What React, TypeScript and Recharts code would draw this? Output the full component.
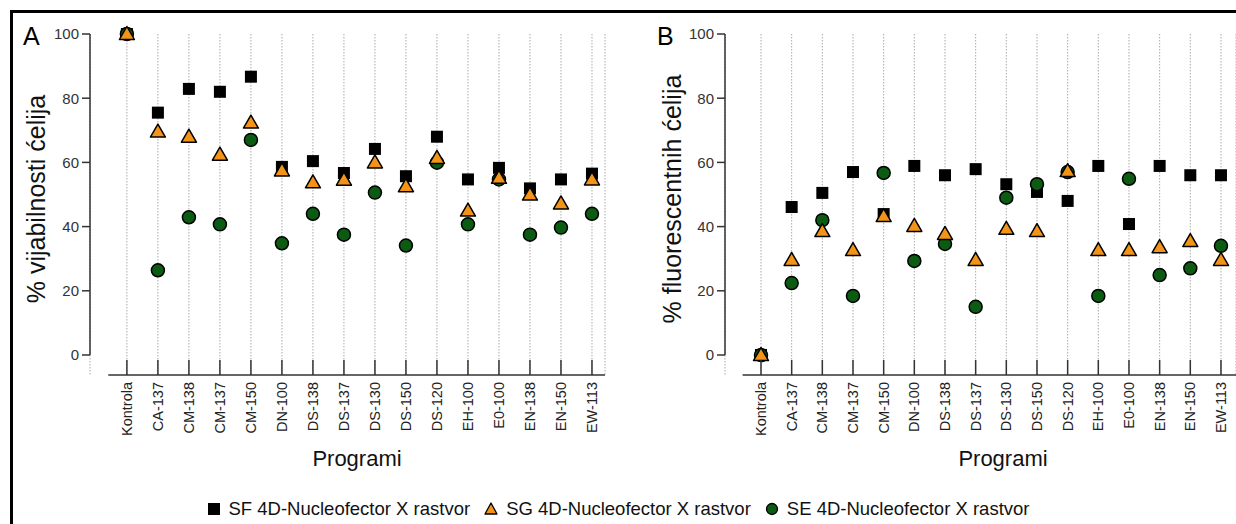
import { ScatterChart, Scatter, XAxis, YAxis, CartesianGrid, ReferenceLine } from "recharts";

const programs = [
  "Kontrola", "CA-137", "CM-138", "CM-137", "CM-150", "DN-100", "DS-138", "DS-137",
  "DS-130", "DS-150", "DS-120", "EH-100", "E0-100", "EN-138", "EN-150", "EW-113",
];

// panel A - % vijabilnosti
const viabilitySF = [100, 75.5, 82.9, 82, 86.7, 58.6, 60.4, 56.7, 64.2, 55.7, 68, 54.7, 58.3, 51.9, 54.7, 56.5];
const viabilitySG = [100, 69.6, 68, 62.4, 72.4, 57.5, 53.8, 54.6, 60, 52.6, 61.4, 45, 55.2, 50, 47.2, 54.7];
const viabilitySE = [100, 26.4, 42.9, 40.7, 67, 34.8, 44, 37.5, 50.6, 34.1, 59.9, 40.7, 54.7, 37.5, 39.7, 44];

// panel B - % fluorescentnih
const fluorSF = [0, 46.1, 50.5, 57, 43.9, 58.9, 56, 57.9, 53.2, 50.8, 48, 58.9, 40.8, 58.9, 56, 56];
const fluorSG = [0, 29.6, 38.6, 32.7, 43.3, 40.2, 37.7, 29.6, 39.3, 38.6, 57.3, 32.7, 32.7, 33.6, 35.5, 29.6];
const fluorSE = [0, 22.4, 42, 18.4, 56.7, 29.3, 34.6, 15, 49, 53.2, 57, 18.4, 54.9, 24.9, 27, 34];

const yTicks = [0, 20, 40, 60, 80, 100];
const seriesNames = [
  "SF 4D-Nucleofector X rastvor",
  "SG 4D-Nucleofector X rastvor",
  "SE 4D-Nucleofector X rastvor",
];

const FONT = '"Liberation Sans", Arial, Helvetica, sans-serif';
const AXIS = "#333";
const ORANGE = "#f39419";
const GREEN = "#0c5b12";
const Y_MIN = -6.23;
const X_LINE_START = -0.6;

const toPoints = (values: number[]) => values.map((v, i) => ({ x: i, y: v }));

function SquareDot(props: any) {
  const { cx, cy } = props;
  if (cx == null || cy == null) return null;
  return <rect x={cx - 6} y={cy - 6} width={12} height={12} fill="#000" />;
}

function TriangleDot(props: any) {
  const { cx, cy } = props;
  if (cx == null || cy == null) return null;
  return (
    <polygon
      points={`${cx},${cy - 7.5} ${cx + 7.5},${cy + 5.5} ${cx - 7.5},${cy + 5.5}`}
      fill={ORANGE}
      stroke="#000"
      strokeWidth={1.5}
      strokeLinejoin="round"
    />
  );
}

function CircleDot(props: any) {
  const { cx, cy } = props;
  if (cx == null || cy == null) return null;
  return <circle cx={cx} cy={cy} r={6.5} fill={GREEN} stroke="#000" strokeWidth={1.5} />;
}

function ProgramTick(props: any) {
  const { x, y, payload } = props;
  return (
    <g>
      <line x1={x} x2={x} y1={y - 15} y2={y} stroke={AXIS} strokeWidth={1.5} />
      <text
        transform={`translate(${x + 5},${y + 7}) rotate(-90)`}
        textAnchor="end"
        fontSize={14.5}
        fontFamily={FONT}
        fill="#222"
      >
        {programs[payload.value]}
      </text>
    </g>
  );
}

type PanelProps = {
  letter: string;
  letterX: number;
  yLabel: string;
  yLabelX: number;
  xLabelX: number;
  sf: number[];
  sg: number[];
  se: number[];
  width: number;
  left: number;
  right: number;
  xMin: number;
  xMax: number;
};

function Panel(p: PanelProps) {
  return (
    <ScatterChart
      width={p.width}
      height={524}
      margin={{ top: 34, right: p.right, left: p.left, bottom: 89 }}
    >
      <CartesianGrid horizontal={false} stroke="#aaa" strokeDasharray="1.5 1.5" />
      <XAxis
        type="number"
        dataKey="x"
        domain={[p.xMin, p.xMax]}
        ticks={programs.map((_, i) => i)}
        interval={0}
        axisLine={false}
        tickLine={false}
        tickSize={0}
        tickMargin={0}
        height={60}
        tick={<ProgramTick />}
        label={{
          content: () => (
            <text x={p.xLabelX} y={466} textAnchor="middle" fontSize={22} fontFamily={FONT} fill="#111">
              Programi
            </text>
          ),
        }}
      />
      <YAxis
        type="number"
        dataKey="y"
        domain={[Y_MIN, 100]}
        ticks={yTicks}
        axisLine={false}
        tickLine={{ stroke: AXIS, strokeWidth: 1.5 }}
        tickSize={8}
        tickMargin={3}
        width={50}
        tick={{ fontSize: 15, fontFamily: FONT, fill: "#333" }}
        label={{
          content: () => (
            <g>
              <text x={p.letterX} y={45} fontSize={25} fontFamily={FONT} fill="#000">
                {p.letter}
              </text>
              <text
                transform={`translate(${p.yLabelX},199) rotate(-90)`}
                textAnchor="middle"
                fontSize={25}
                fontFamily={FONT}
                fill="#111"
              >
                {p.yLabel}
              </text>
            </g>
          ),
        }}
      />
      <ReferenceLine
        segment={[{ x: p.xMin, y: 0 }, { x: p.xMin, y: 100 }]}
        stroke={AXIS}
        strokeWidth={1.5}
        ifOverflow="visible"
      />
      <ReferenceLine
        segment={[{ x: X_LINE_START, y: Y_MIN }, { x: p.xMax, y: Y_MIN }]}
        stroke={AXIS}
        strokeWidth={1.5}
        ifOverflow="visible"
      />
      <Scatter name={seriesNames[0]} data={toPoints(p.sf)} shape={<SquareDot />} isAnimationActive={false} />
      <Scatter name={seriesNames[2]} data={toPoints(p.se)} shape={<CircleDot />} isAnimationActive={false} />
      <Scatter name={seriesNames[1]} data={toPoints(p.sg)} shape={<TriangleDot />} isAnimationActive={false} />
    </ScatterChart>
  );
}

function LegendMarker({ index }: { index: number }) {
  return (
    <svg width={14} height={14} style={{ marginRight: 8 }}>
      {index === 0 && <rect x={1} y={1} width={12} height={12} fill="#000" />}
      {index === 1 && (
        <polygon points="7,1 13,12 1,12" fill={ORANGE} stroke="#000" strokeWidth={1.3} strokeLinejoin="round" />
      )}
      {index === 2 && <circle cx={7} cy={7} r={5.5} fill={GREEN} stroke="#000" strokeWidth={1.3} />}
    </svg>
  );
}

export default function App() {
  return (
    <div
      style={{
        position: "absolute",
        left: 0,
        top: 0,
        width: 1236,
        height: 524,
        background: "#fff",
        overflow: "hidden",
        fontFamily: FONT,
      }}
    >
      <div
        style={{
          position: "absolute",
          left: 10,
          top: 10,
          width: 1226,
          height: 514,
          borderTop: "3px solid #000",
          borderLeft: "3px solid #000",
          boxSizing: "border-box",
        }}
      />
      <div style={{ position: "absolute", left: 0, top: 0 }}>
        <Panel
          letter="A"
          letterX={23}
          yLabel="% vijabilnosti ćelija"
          yLabelX={45}
          xLabelX={357}
          sf={viabilitySF}
          sg={viabilitySG}
          se={viabilitySE}
          width={620}
          left={40}
          right={15}
          xMin={-1.19}
          xMax={15.42}
        />
      </div>
      <div style={{ position: "absolute", left: 620, top: 0 }}>
        <Panel
          letter="B"
          letterX={37}
          yLabel="% fluorescentnih ćelija"
          yLabelX={61}
          xLabelX={383}
          sf={fluorSF}
          sg={fluorSG}
          se={fluorSE}
          width={616}
          left={55}
          right={0}
          xMin={-1.174}
          xMax={15.49}
        />
      </div>
      <div
        style={{
          position: "absolute",
          left: 0,
          top: 498,
          width: 1236,
          display: "flex",
          justifyContent: "center",
          alignItems: "center",
          fontSize: 18.5,
          color: "#111",
          whiteSpace: "nowrap",
        }}
      >
        {seriesNames.map((name, i) => (
          <div key={name} style={{ display: "flex", alignItems: "center", marginRight: i < 2 ? 14 : 0 }}>
            <LegendMarker index={i} />
            <span>{name}</span>
          </div>
        ))}
      </div>
    </div>
  );
}
